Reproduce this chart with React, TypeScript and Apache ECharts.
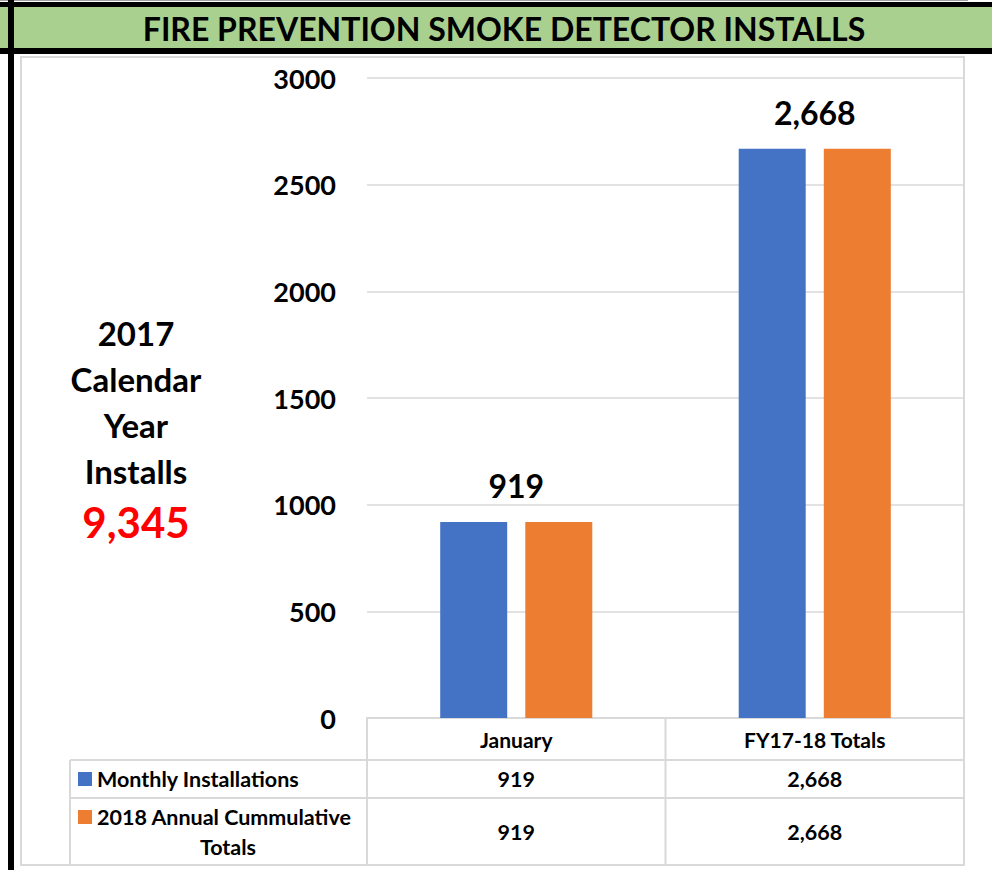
import React, { useEffect, useRef } from "react";
import * as echarts from "echarts";

const categories = ["January", "FY17-18 Totals"];
const monthlyInstallations = [919, 2668];
const annualCumulative = [919, 2668];
const seriesNames = ["Monthly Installations", "2018 Annual Cummulative Totals"];
const yTicks = { min: 0, max: 3000, interval: 500 };
const titleText = "FIRE PREVENTION SMOKE DETECTOR INSTALLS";
const sideLines = ["2017", "Calendar", "Year", "Installs"];
const sideTotal = "9,345";

const FONT = "Lato, 'Noto Sans', sans-serif";
const BLUE = "#4472C4";
const ORANGE = "#ED7D31";
const GRID = "#d9d9d9";

const fmt = (v: number) => v.toLocaleString("en-US");

export default function App() {
  const ref = useRef<HTMLDivElement>(null);
  useEffect(() => {
    if (!ref.current) return;
    const chart = echarts.init(ref.current, null, { renderer: "svg" });
    const gridLeft = 367;
    const gridRight = 28;
    const gridTop = 78;
    const gridBottom = 152;
    chart.setOption({
      animation: false,
      backgroundColor: "#ffffff",
      grid: { left: gridLeft, right: gridRight, top: gridTop, bottom: gridBottom, containLabel: false },
      xAxis: {
        type: "category",
        data: categories,
        axisLine: { show: true, lineStyle: { color: GRID, width: 2 } },
        axisTick: { show: false },
        axisLabel: {
          margin: 11,
          fontFamily: FONT,
          fontWeight: "bold",
          fontSize: 21,
          color: "#000",
        },
      },
      yAxis: {
        type: "value",
        min: yTicks.min,
        max: yTicks.max,
        interval: yTicks.interval,
        axisLine: { show: false },
        axisTick: { show: false },
        splitLine: { lineStyle: { color: GRID, width: 1.5 } },
        axisLabel: {
          margin: 31,
          fontFamily: FONT,
          fontWeight: "bold",
          fontSize: 27,
          color: "#000",
          formatter: (v: number) => String(v),
        },
      },
      series: [
        {
          name: seriesNames[0],
          type: "bar",
          data: monthlyInstallations,
          barWidth: 67,
          barGap: "27%",
          itemStyle: { color: BLUE },
        },
        {
          name: seriesNames[1],
          type: "bar",
          data: annualCumulative,
          barWidth: 67,
          itemStyle: { color: ORANGE },
        },
        {
          name: "labels",
          type: "scatter",
          data: monthlyInstallations,
          symbolSize: 0,
          z: 10,
          silent: true,
          itemStyle: { opacity: 1 },
          label: {
            show: true,
            position: "top",
            distance: 20,
            formatter: (p: any) => fmt(p.value),
            fontFamily: FONT,
            fontWeight: "bold",
            fontSize: 32,
            color: "#000",
          },
        },
      ],
    });

    const rowTop = 718;
    const row1 = 760;
    const row2 = 798;
    const bottom = 865;
    const legendLeft = 70;
    const right = 964;
    const xs = categories.map((c) => chart.convertToPixel({ xAxisIndex: 0 }, c) as number);
    const bandW = xs.length > 1 ? xs[1] - xs[0] : 300;
    const dividers = categories.map((_, i) => xs[i] - bandW / 2);

    const g: any[] = [];
    g.push({ type: "rect", shape: { x: 21, y: 57, width: 943, height: 808 }, style: { fill: "none", stroke: GRID, lineWidth: 2 }, z: 0 });
    g.push({ type: "line", shape: { x1: 0, y1: 0.5, x2: 968, y2: 0.5 }, style: { stroke: "#a0a0a0", lineWidth: 1 } });
    g.push({ type: "rect", shape: { x: 0, y: 2, width: 992, height: 52 }, style: { fill: "#000" } });
    g.push({ type: "rect", shape: { x: 0, y: 7, width: 992, height: 41 }, style: { fill: "#a9d08e" } });
    g.push({ type: "rect", shape: { x: 8, y: 0, width: 6, height: 870 }, style: { fill: "#000" }, z: 20 });
    g.push({
      type: "text",
      x: 504,
      y: 28,
      style: { text: titleText, fontFamily: FONT, fontWeight: "bold", fontSize: 32, fill: "#000", align: "center", verticalAlign: "middle" },
      z: 21,
    });
    const L = (x1: number, y1: number, x2: number, y2: number) =>
      g.push({ type: "line", shape: { x1, y1, x2, y2 }, style: { stroke: GRID, lineWidth: 2 } });
    L(legendLeft, row1, right, row1);
    L(legendLeft, row2, right, row2);
    L(legendLeft, row1, legendLeft, bottom);
    dividers.forEach((d) => L(d, rowTop, d, bottom));
    L(right, rowTop, right, bottom);
    const textStyle = (t: string, extra: any = {}) => ({
      text: t,
      fontFamily: FONT,
      fontWeight: "bold",
      fontSize: 21.5,
      fill: "#000",
      verticalAlign: "middle",
      ...extra,
    });
    g.push({ type: "rect", shape: { x: 78, y: 772, width: 14, height: 14 }, style: { fill: BLUE } });
    g.push({ type: "text", x: 97, y: 779, style: textStyle(seriesNames[0], { align: "left" }) });
    g.push({ type: "rect", shape: { x: 78, y: 810, width: 14, height: 14 }, style: { fill: ORANGE } });
    g.push({ type: "text", x: 97, y: 817, style: textStyle("2018 Annual Cummulative", { align: "left" }) });
    g.push({ type: "text", x: 228, y: 847, style: textStyle("Totals", { align: "center" }) });
    categories.forEach((_, i) => {
      g.push({ type: "text", x: xs[i], y: 779, style: textStyle(fmt(monthlyInstallations[i]), { align: "center" }) });
      g.push({ type: "text", x: xs[i], y: 832, style: textStyle(fmt(annualCumulative[i]), { align: "center" }) });
    });
    sideLines.forEach((t, i) => {
      g.push({
        type: "text",
        x: 136,
        y: 333 + i * 46,
        style: { text: t, fontFamily: FONT, fontWeight: "bold", fontSize: 33, fill: "#000", align: "center", verticalAlign: "middle" },
      });
    });
    g.push({
      type: "text",
      x: 136,
      y: 522,
      style: { text: sideTotal, fontFamily: FONT, fontWeight: "bold", fontSize: 42, fill: "#ff0000", align: "center", verticalAlign: "middle" },
    });
    chart.setOption({ graphic: g });
    return () => chart.dispose();
  }, []);
  return (
    <div
      ref={ref}
      style={{ position: "fixed", left: 0, top: 0, width: 992, height: 870, background: "#fff" }}
    />
  );
}
